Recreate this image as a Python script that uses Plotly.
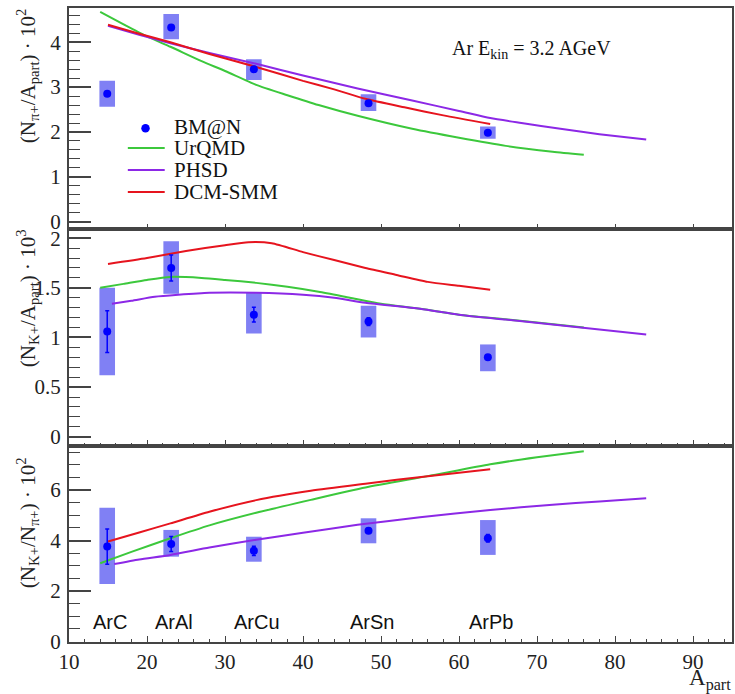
import plotly.graph_objects as go
from plotly.subplots import make_subplots

# ---------------- data ----------------
systems = ["ArC", "ArAl", "ArCu", "ArSn", "ArPb"]
apart = [14.9, 23.1, 33.7, 48.4, 63.7]

# (N_pi+/A_part)*10^2
pi_val = [2.85, 4.33, 3.40, 2.64, 1.98]
pi_stat = [0.03, 0.03, 0.03, 0.03, 0.03]
pi_sys_lo = [2.56, 4.07, 3.16, 2.47, 1.85]
pi_sys_hi = [3.14, 4.63, 3.62, 2.84, 2.12]

# (N_K+/A_part)*10^3
k_val = [1.06, 1.70, 1.23, 1.16, 0.80]
k_stat = [0.21, 0.13, 0.075, 0.04, 0.02]
k_sys_lo = [0.62, 1.44, 1.04, 1.00, 0.66]
k_sys_hi = [1.50, 1.97, 1.45, 1.32, 0.93]

# (N_K+/N_pi+)*10^2
r_val = [3.76, 3.86, 3.59, 4.39, 4.09]
r_stat = [0.70, 0.30, 0.18, 0.10, 0.15]
r_sys_lo = [2.28, 3.36, 3.16, 3.89, 3.43]
r_sys_hi = [5.30, 4.42, 4.15, 4.88, 4.81]

# model curves
urqmd_pi_x = [14, 17, 20, 23, 27, 30, 34, 38, 42, 47, 54, 60, 66, 72, 76]
urqmd_pi_y = [4.68, 4.40, 4.13, 3.90, 3.58, 3.36, 3.05, 2.82, 2.60, 2.36, 2.07, 1.87, 1.69, 1.56, 1.49]
phsd_pi_x = [15, 19, 23, 28, 34, 40, 47, 54, 60, 64, 68, 73, 78, 84]
phsd_pi_y = [4.37, 4.17, 3.98, 3.76, 3.52, 3.26, 2.97, 2.70, 2.47, 2.31, 2.20, 2.07, 1.95, 1.83]
dcm_pi_x = [15, 19, 23, 28, 34, 40, 44, 48, 53, 58, 64]
dcm_pi_y = [4.39, 4.19, 4.00, 3.74, 3.45, 3.14, 2.95, 2.74, 2.55, 2.37, 2.18]

urqmd_k_x = [14, 17, 20, 23, 27, 30, 34, 38, 42, 46, 50, 55, 60, 65, 70, 76]
urqmd_k_y = [1.50, 1.54, 1.58, 1.61, 1.60, 1.58, 1.55, 1.51, 1.46, 1.40, 1.34, 1.29, 1.23, 1.19, 1.15, 1.10]
phsd_k_x = [15.5, 18, 21, 24, 28, 34, 40, 44, 48, 55, 60, 66, 72, 78, 84]
phsd_k_y = [1.34, 1.37, 1.41, 1.43, 1.45, 1.45, 1.43, 1.40, 1.35, 1.29, 1.23, 1.18, 1.13, 1.08, 1.03]
dcm_k_x = [15, 20, 25, 30, 33, 36, 40, 44, 48, 52, 56, 60, 64]
dcm_k_y = [1.74, 1.80, 1.87, 1.93, 1.96, 1.95, 1.86, 1.78, 1.70, 1.63, 1.56, 1.52, 1.48]

urqmd_r_x = [14, 18, 23, 28, 34, 41, 48, 56, 64, 70, 76]
urqmd_r_y = [3.10, 3.55, 4.09, 4.60, 5.10, 5.61, 6.10, 6.55, 7.02, 7.30, 7.54]
phsd_r_x = [15.8, 19, 23, 28, 34, 40, 47, 55, 64, 72, 78, 84]
phsd_r_y = [3.07, 3.25, 3.43, 3.72, 4.03, 4.31, 4.62, 4.92, 5.21, 5.42, 5.55, 5.67]
dcm_r_x = [15, 19, 23, 28, 34, 41, 48, 56, 64]
dcm_r_y = [3.96, 4.32, 4.68, 5.14, 5.60, 5.97, 6.25, 6.55, 6.82]

x_ticks = [10, 20, 30, 40, 50, 60, 70, 80, 90]

# ---------------- style ----------------
W, H = 735, 694
ML, MR, MT, MB = 69, 1, 8, 52
PW, PH = W - ML - MR, H - MT - MB
BLUE = "#0000ff"
BOX = "#8080f4"
GREEN = "#3cc83c"
PURPLE = "#8c28e6"
RED = "#e6141e"
AX = "#444444"
SERIF = "Liberation Serif, Times New Roman, serif"
SANS = "Liberation Sans, Arial, sans-serif"


def pxx(x):
    return (x - ML) / PW


def pxy(y):
    return (H - MB - y) / PH


fig = make_subplots(rows=3, cols=1, shared_xaxes=True, vertical_spacing=0,
                    row_heights=[0.349, 0.342, 0.309])

panels = [
    (1, pi_val, pi_stat, pi_sys_lo, pi_sys_hi,
     [(urqmd_pi_x, urqmd_pi_y, GREEN), (phsd_pi_x, phsd_pi_y, PURPLE), (dcm_pi_x, dcm_pi_y, RED)]),
    (2, k_val, k_stat, k_sys_lo, k_sys_hi,
     [(urqmd_k_x, urqmd_k_y, GREEN), (phsd_k_x, phsd_k_y, PURPLE), (dcm_k_x, dcm_k_y, RED)]),
    (3, r_val, r_stat, r_sys_lo, r_sys_hi,
     [(urqmd_r_x, urqmd_r_y, GREEN), (phsd_r_x, phsd_r_y, PURPLE), (dcm_r_x, dcm_r_y, RED)]),
]

for row, val, stat, lo, hi, models in panels:
    fig.add_trace(go.Bar(x=apart, y=[h - l for h, l in zip(hi, lo)], base=lo, width=2.0,
                         marker=dict(color=BOX, line_width=0), showlegend=False,
                         hoverinfo="skip"), row=row, col=1)
    for mx, my, col in models:
        fig.add_trace(go.Scatter(x=mx, y=my, mode="lines",
                                 line=dict(color=col, width=2, shape="spline", smoothing=0.6),
                                 showlegend=False), row=row, col=1)
    fig.add_trace(go.Scatter(x=apart, y=val, mode="markers",
                             marker=dict(color=BLUE, size=8, symbol="circle"),
                             error_y=dict(type="data", array=stat, color=BLUE, thickness=1.5, width=2),
                             showlegend=False), row=row, col=1)

# system labels
for s, a in zip(systems, apart):
    fig.add_annotation(x=a, y=0.79, xref="x3", yref="y3", text=s, showarrow=False,
                       xshift=3, font=dict(family=SANS, size=20, color="#111"))

fig.update_layout(barmode="overlay")

yranges = {1: [-0.17, 4.765], 2: [-0.094, 2.09], 3: [-0.02, 7.74]}
ydticks = {1: 1, 2: 0.5, 3: 2}
yminor = {1: 0.2, 2: 0.1, 3: 0.5}
TICKFONT = dict(family=SERIF, size=21, color="#222")
for r in (1, 2, 3):
    fig.update_yaxes(row=r, col=1, range=yranges[r], dtick=ydticks[r], tick0=0,
                     showline=True, linecolor=AX, linewidth=2, mirror=True,
                     ticks="inside", ticklen=22, tickwidth=1.5, tickcolor=AX,
                     minor=dict(dtick=yminor[r], ticks="inside", ticklen=11, tickwidth=1.2, tickcolor=AX),
                     showgrid=False, zeroline=False,
                     tickfont=TICKFONT, ticklabelstandoff=2)
    fig.update_xaxes(row=r, col=1, range=[10, 95], tickvals=x_ticks,
                     showline=True, linecolor=AX, linewidth=1.5, mirror=True,
                     ticks="inside", ticklen=6, tickwidth=1.2, tickcolor=AX,
                     minor=dict(dtick=2, tick0=10, ticks="inside", ticklen=3, tickwidth=1, tickcolor=AX),
                     showgrid=False, zeroline=False,
                     tickfont=TICKFONT)

# axis titles
titles = [
    ("(N<sub>π+</sub>/A<sub>part</sub>) · 10<sup>2</sup>", 76),
    ("(N<sub>K+</sub>/A<sub>part</sub>) · 10<sup>3</sup>", 298),
    ("(N<sub>K+</sub>/N<sub>π+</sub>) · 10<sup>2</sup>", 523),
]
for t, yc in titles:
    fig.add_annotation(x=pxx(27), y=pxy(yc), xref="paper", yref="paper", text=t,
                       textangle=-90, showarrow=False, xanchor="center", yanchor="middle",
                       font=dict(family=SERIF, size=21, color="#222"))

fig.add_annotation(x=pxx(735), y=pxy(663), xref="paper", yref="paper",
                   text="A<sub>part</sub>", showarrow=False, xanchor="right", yanchor="top",
                   font=dict(family=SERIF, size=23, color="#222"))

fig.add_annotation(x=pxx(533), y=pxy(49), xref="paper", yref="paper",
                   text="Ar E<sub>kin</sub> = 3.2 AGeV", showarrow=False,
                   xanchor="center", yanchor="middle",
                   font=dict(family=SERIF, size=20, color="#111"))

# legend (drawn manually to match compact ROOT legend)
leg = [("BM@N", None, 127), ("UrQMD", GREEN, 148), ("PHSD", PURPLE, 170), ("DCM-SMM", RED, 192)]
for name, col, yc in leg:
    if col is None:
        fig.add_shape(type="circle", xref="paper", yref="paper",
                      x0=pxx(141.5), x1=pxx(150), y0=pxy(132.5), y1=pxy(124),
                      fillcolor=BLUE, line=dict(color=BLUE, width=0))
    else:
        fig.add_shape(type="line", xref="paper", yref="paper",
                      x0=pxx(128), x1=pxx(165), y0=pxy(yc), y1=pxy(yc),
                      line=dict(color=col, width=2))
    fig.add_annotation(x=pxx(172), y=pxy(yc), xref="paper", yref="paper", text=name,
                       showarrow=False, xanchor="left", yanchor="middle",
                       font=dict(family=SERIF, size=21, color="#111"))

fig.update_layout(width=W, height=H, margin=dict(l=ML, r=MR, t=MT, b=MB),
                  font=dict(family=SERIF, size=20, color="#222"),
                  paper_bgcolor="white", plot_bgcolor="white", showlegend=False)

fig.write_html("out.html")
